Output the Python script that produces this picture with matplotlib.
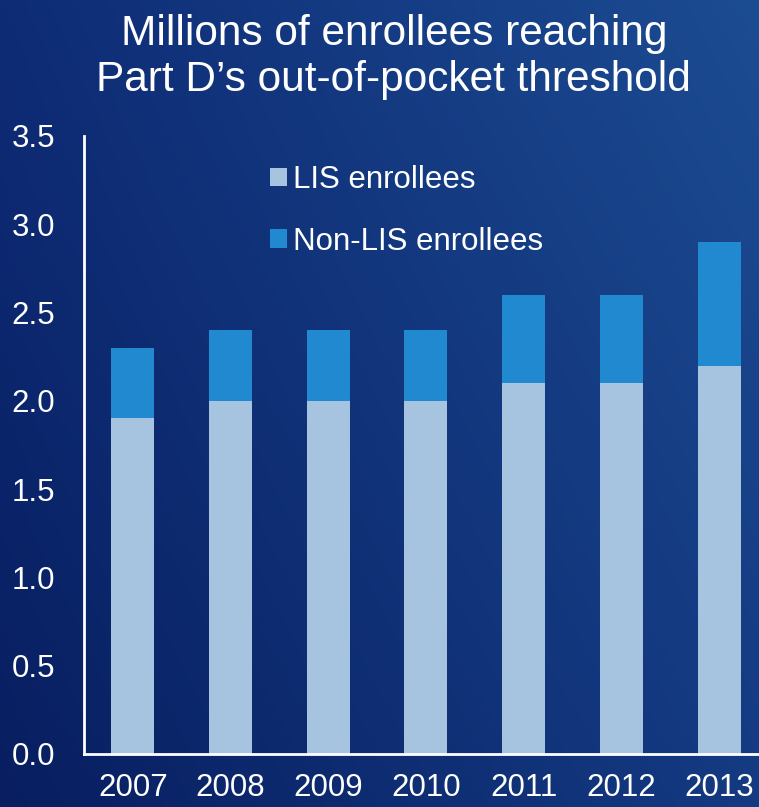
import numpy as np
import matplotlib
matplotlib.use("Agg")
import matplotlib.pyplot as plt

plt.rcParams['font.family'] = ['Liberation Sans', 'DejaVu Sans']

# data (millions of enrollees)
years = ['2007', '2008', '2009', '2010', '2011', '2012', '2013']
lis = [1.9, 2.0, 2.0, 2.0, 2.1, 2.1, 2.2]
non_lis = [0.4, 0.4, 0.4, 0.4, 0.5, 0.5, 0.7]
yticks = [0.0, 0.5, 1.0, 1.5, 2.0, 2.5, 3.0, 3.5]

lis_color = '#A6C3DF'
non_lis_color = '#2189CF'

fig = plt.figure(figsize=(7.59, 8.07), dpi=100)

# background gradient (dark navy bottom-left -> lighter blue top-right)
bg = fig.add_axes([0, 0, 1, 1], zorder=-10)
bg.axis('off')
c_bl = np.array([8, 30, 96]) / 255
c_br = np.array([20, 58, 130]) / 255
c_tl = np.array([14, 44, 118]) / 255
c_tr = np.array([28, 76, 146]) / 255
u = np.linspace(0, 1, 200)[None, :, None]
v = np.linspace(0, 1, 200)[:, None, None]
grad = (c_bl * (1 - u) * (1 - v) + c_br * u * (1 - v)
        + c_tl * (1 - u) * v + c_tr * u * v)
bg.imshow(grad, origin='lower', extent=[0, 1, 0, 1], aspect='auto')
bg.set_xlim(0, 1)
bg.set_ylim(0, 1)

ax = fig.add_axes([0.1107, 0.0657, 0.901, 0.7658])
ax.patch.set_alpha(0)
x = np.arange(len(years))
ax.bar(x, lis, width=0.44, color=lis_color, label='LIS enrollees')
ax.bar(x, non_lis, width=0.44, bottom=lis, color=non_lis_color,
       label='Non-LIS enrollees')

ax.set_xlim(-0.5, 6.5)
ax.set_ylim(0, 3.5)
ax.set_yticks(yticks)
ax.set_yticklabels([f'{t:.1f}' for t in yticks])
ax.set_xticks(x)
ax.set_xticklabels(years)
ax.tick_params(axis='both', length=0, labelsize=22.5, colors='white')
ax.tick_params(axis='y', pad=21)
ax.tick_params(axis='x', pad=14)
for side in ['top', 'right']:
    ax.spines[side].set_visible(False)
for side in ['left', 'bottom']:
    ax.spines[side].set_color('white')
    ax.spines[side].set_linewidth(2)

leg = ax.legend(loc='upper left', bbox_to_anchor=(270 / 759, 1 - 165 / 807),
                bbox_transform=fig.transFigure, frameon=False, fontsize=22.5,
                handlelength=0.55, handleheight=0.55, handletextpad=0.2,
                labelspacing=1.02, borderpad=0, borderaxespad=0)
for t in leg.get_texts():
    t.set_color('white')

fig.text(0.519, 0.929, "Millions of enrollees reaching\nPart D\u2019s out-of-pocket threshold",
         ha='center', va='center', fontsize=30.5, color='white', linespacing=1.2)

fig.savefig('out.png', dpi=100)
